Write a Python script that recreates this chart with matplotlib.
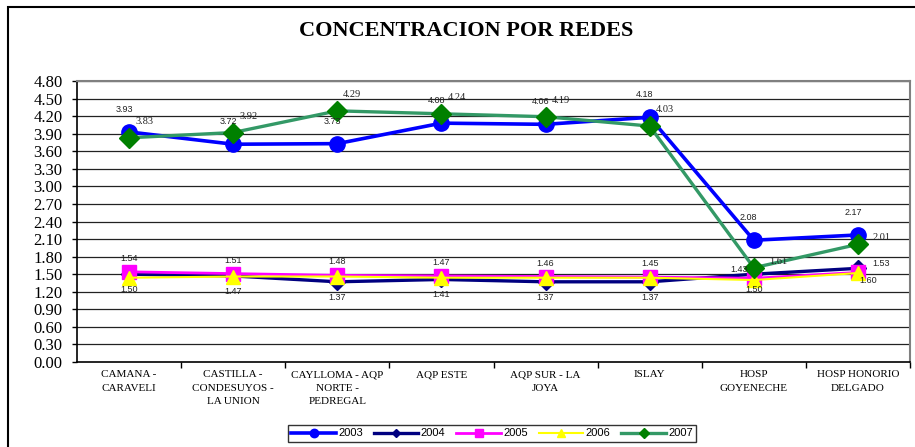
import matplotlib
matplotlib.use('Agg')
import matplotlib.pyplot as plt
from matplotlib.patches import Rectangle

categorias = ['CAMANA -\nCARAVELI', 'CASTILLA -\nCONDESUYOS -\nLA UNION',
              'CAYLLOMA - AQP\nNORTE -\nPEDREGAL', 'AQP ESTE', 'AQP SUR - LA\nJOYA',
              'ISLAY', 'HOSP\nGOYENECHE', 'HOSP HONORIO\nDELGADO']
v2003 = [3.93, 3.72, 3.73, 4.08, 4.06, 4.18, 2.08, 2.17]
v2004 = [1.50, 1.47, 1.37, 1.41, 1.37, 1.37, 1.50, 1.60]
v2005 = [1.54, 1.51, 1.48, 1.47, 1.46, 1.45, 1.43, 1.53]
v2006 = [1.44, 1.46, 1.46, 1.44, 1.44, 1.44, 1.40, 1.52]
v2007 = [3.83, 3.92, 4.29, 4.24, 4.19, 4.03, 1.61, 2.01]
yticks = [0.0, 0.3, 0.6, 0.9, 1.2, 1.5, 1.8, 2.1, 2.4, 2.7, 3.0, 3.3, 3.6, 3.9, 4.2, 4.5, 4.8]

serif = ['Liberation Serif', 'DejaVu Serif']
sans = ['Liberation Sans', 'DejaVu Sans']

fig = plt.figure(figsize=(9.15, 4.47), dpi=100)
ax = fig.add_axes([77/915, 1-362/447, 833/915, 281/447])

x = list(range(len(categorias)))
n = len(categorias)

# grid
for t in yticks[1:]:
    ax.axhline(t, color='#222222', lw=0.9, zorder=1)

ax.plot(x, v2003, color='#0000FF', lw=2.6, marker='o', ms=11, mfc='#0000FF', mec='#0000FF', zorder=3, label='2003')
ax.plot(x, v2004, color='#000080', lw=2.4, marker='D', ms=8, mfc='#000080', mec='#000080', zorder=3, label='2004')
ax.plot(x, v2005, color='#FF00FF', lw=2.0, marker='s', ms=10, mfc='#FF00FF', mec='#FF00FF', zorder=3, label='2005')
ax.plot(x, v2006, color='#FFFF00', lw=1.5, marker='^', ms=10, mfc='#FFFF00', mec='#FFFF00', zorder=3, label='2006')
ax.plot(x, v2007, color='#339966', lw=2.4, marker='D', ms=10, mfc='#008000', mec='#008000', zorder=3, label='2007')

# etiquetas de datos
for i in x:
    ax.annotate('%.2f' % v2003[i], (i, v2003[i]), xytext=(-5, 18), textcoords='offset pixels',
                ha='center', va='bottom', fontsize=6.5, family=sans, color='#222222', zorder=5)
    off7 = (24, 2) if i >= n - 2 else (15, 12)
    ax.annotate('%.2f' % v2007[i], (i, v2007[i]), xytext=off7, textcoords='offset pixels',
                ha='center', va='bottom', fontsize=7.5, family=serif, color='#222222', zorder=5)
    if i == n - 2:
        off5, ha5 = (-6, 4), 'right'
    elif i == n - 1:
        off5, ha5 = (14, 4), 'left'
    else:
        off5, ha5 = (0, 9), 'center'
    ax.annotate('%.2f' % v2005[i], (i, v2005[i]), xytext=off5, textcoords='offset pixels',
                ha=ha5, va='bottom', fontsize=6.5, family=sans, color='#222222', zorder=5)
    off4 = (10, -8) if i == n - 1 else (0, -11)
    ax.annotate('%.2f' % v2004[i], (i, v2004[i]), xytext=off4, textcoords='offset pixels',
                ha='center', va='top', fontsize=6.5, family=sans, color='#222222', zorder=5)

ax.set_xlim(-0.5, n - 0.5)
ax.set_ylim(0, 4.8)
ax.set_yticks(yticks)
ax.set_yticklabels(['%.2f' % t for t in yticks], family=serif, fontsize=12)
ax.set_xticks(x)
ax.set_xticklabels(categorias, family=serif, fontsize=8, linespacing=1.65)
ax.tick_params(axis='x', length=0, pad=6)
ax.set_xticks([i + 0.5 for i in x], minor=True)
ax.tick_params(axis='x', which='minor', length=4, direction='out', width=1)
ax.tick_params(axis='y', length=3.5, direction='out', width=1, pad=7)

for s in ['top', 'right']:
    ax.spines[s].set_color('#808080')
    ax.spines[s].set_linewidth(1.5)
for s in ['left', 'bottom']:
    ax.spines[s].set_color('black')
    ax.spines[s].set_linewidth(1.2)

fig.text(466/915, 1-31/447, 'CONCENTRACION POR REDES', ha='center', va='center',
         fontsize=16, fontweight='bold', family=serif)

leg = fig.legend(loc='center', bbox_to_anchor=(492/915, 1-433.5/447), ncol=5,
                 prop={'family': sans, 'size': 8}, frameon=True, fancybox=False,
                 handlelength=4.0, handletextpad=0.2, columnspacing=1.0, markerscale=0.55,
                 borderpad=0.3)
leg.get_frame().set_edgecolor('black')
leg.get_frame().set_linewidth(1.0)

fig.patches.append(Rectangle((8/915, -0.1), 1.2, 1.1 - 7/447, transform=fig.transFigure,
                             fill=False, edgecolor='black', lw=1.5))

fig.savefig('out.png', dpi=100)
